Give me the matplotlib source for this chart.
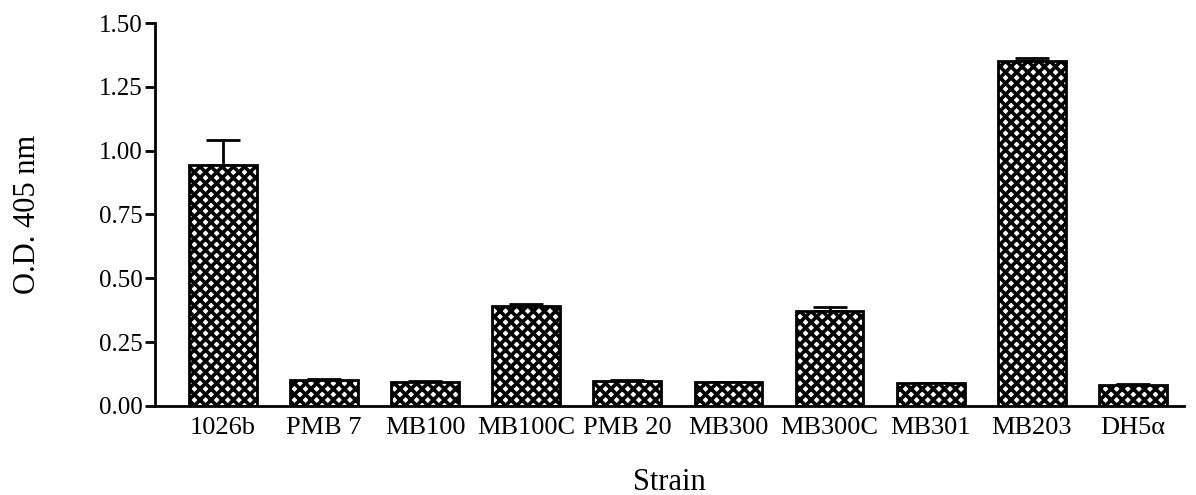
import matplotlib.pyplot as plt

plt.rcParams['font.family'] = ['Liberation Serif', 'DejaVu Serif']
plt.rcParams['hatch.linewidth'] = 2.6

strains = ['1026b', 'PMB 7', 'MB100', 'MB100C', 'PMB 20',
           'MB300', 'MB300C', 'MB301', 'MB203', 'DH5\u03b1']
od405 = [0.945, 0.100, 0.093, 0.390, 0.098, 0.092, 0.372, 0.088, 1.352, 0.083]
err = [0.095, 0.004, 0.003, 0.010, 0.004, 0.003, 0.015, 0.003, 0.010, 0.003]

fig = plt.figure(figsize=(11.96, 4.95), dpi=100)
ax = fig.add_axes([0.1296, 0.180, 0.860, 0.7735])

x = range(len(strains))
ax.bar(x, od405, width=0.67, color='white', edgecolor='black',
       linewidth=2, hatch='xxx', zorder=2)
ax.errorbar(x, od405, yerr=[[0] * len(err), err], fmt='none', ecolor='black',
            elinewidth=2, capsize=12, capthick=2, zorder=1)

ax.set_xlim(-0.67, 9.5)
ax.set_ylim(0, 1.5)
ax.set_yticks([0, 0.25, 0.5, 0.75, 1.0, 1.25, 1.5])
ax.set_yticklabels(['0.00', '0.25', '0.50', '0.75', '1.00', '1.25', '1.50'])
ax.set_xticks(list(x))
ax.set_xticklabels(strains)
ax.tick_params(axis='y', direction='out', length=7, width=2, labelsize=18, pad=2)
ax.tick_params(axis='x', length=0, labelsize=19, pad=8)

for s in ['top', 'right']:
    ax.spines[s].set_visible(False)
for s in ['left', 'bottom']:
    ax.spines[s].set_linewidth(2)

ax.set_xlabel('Strain', fontsize=22, labelpad=21)
ax.set_ylabel('O.D. 405 nm', fontsize=22, labelpad=41)

fig.savefig('out.png', dpi=100)
